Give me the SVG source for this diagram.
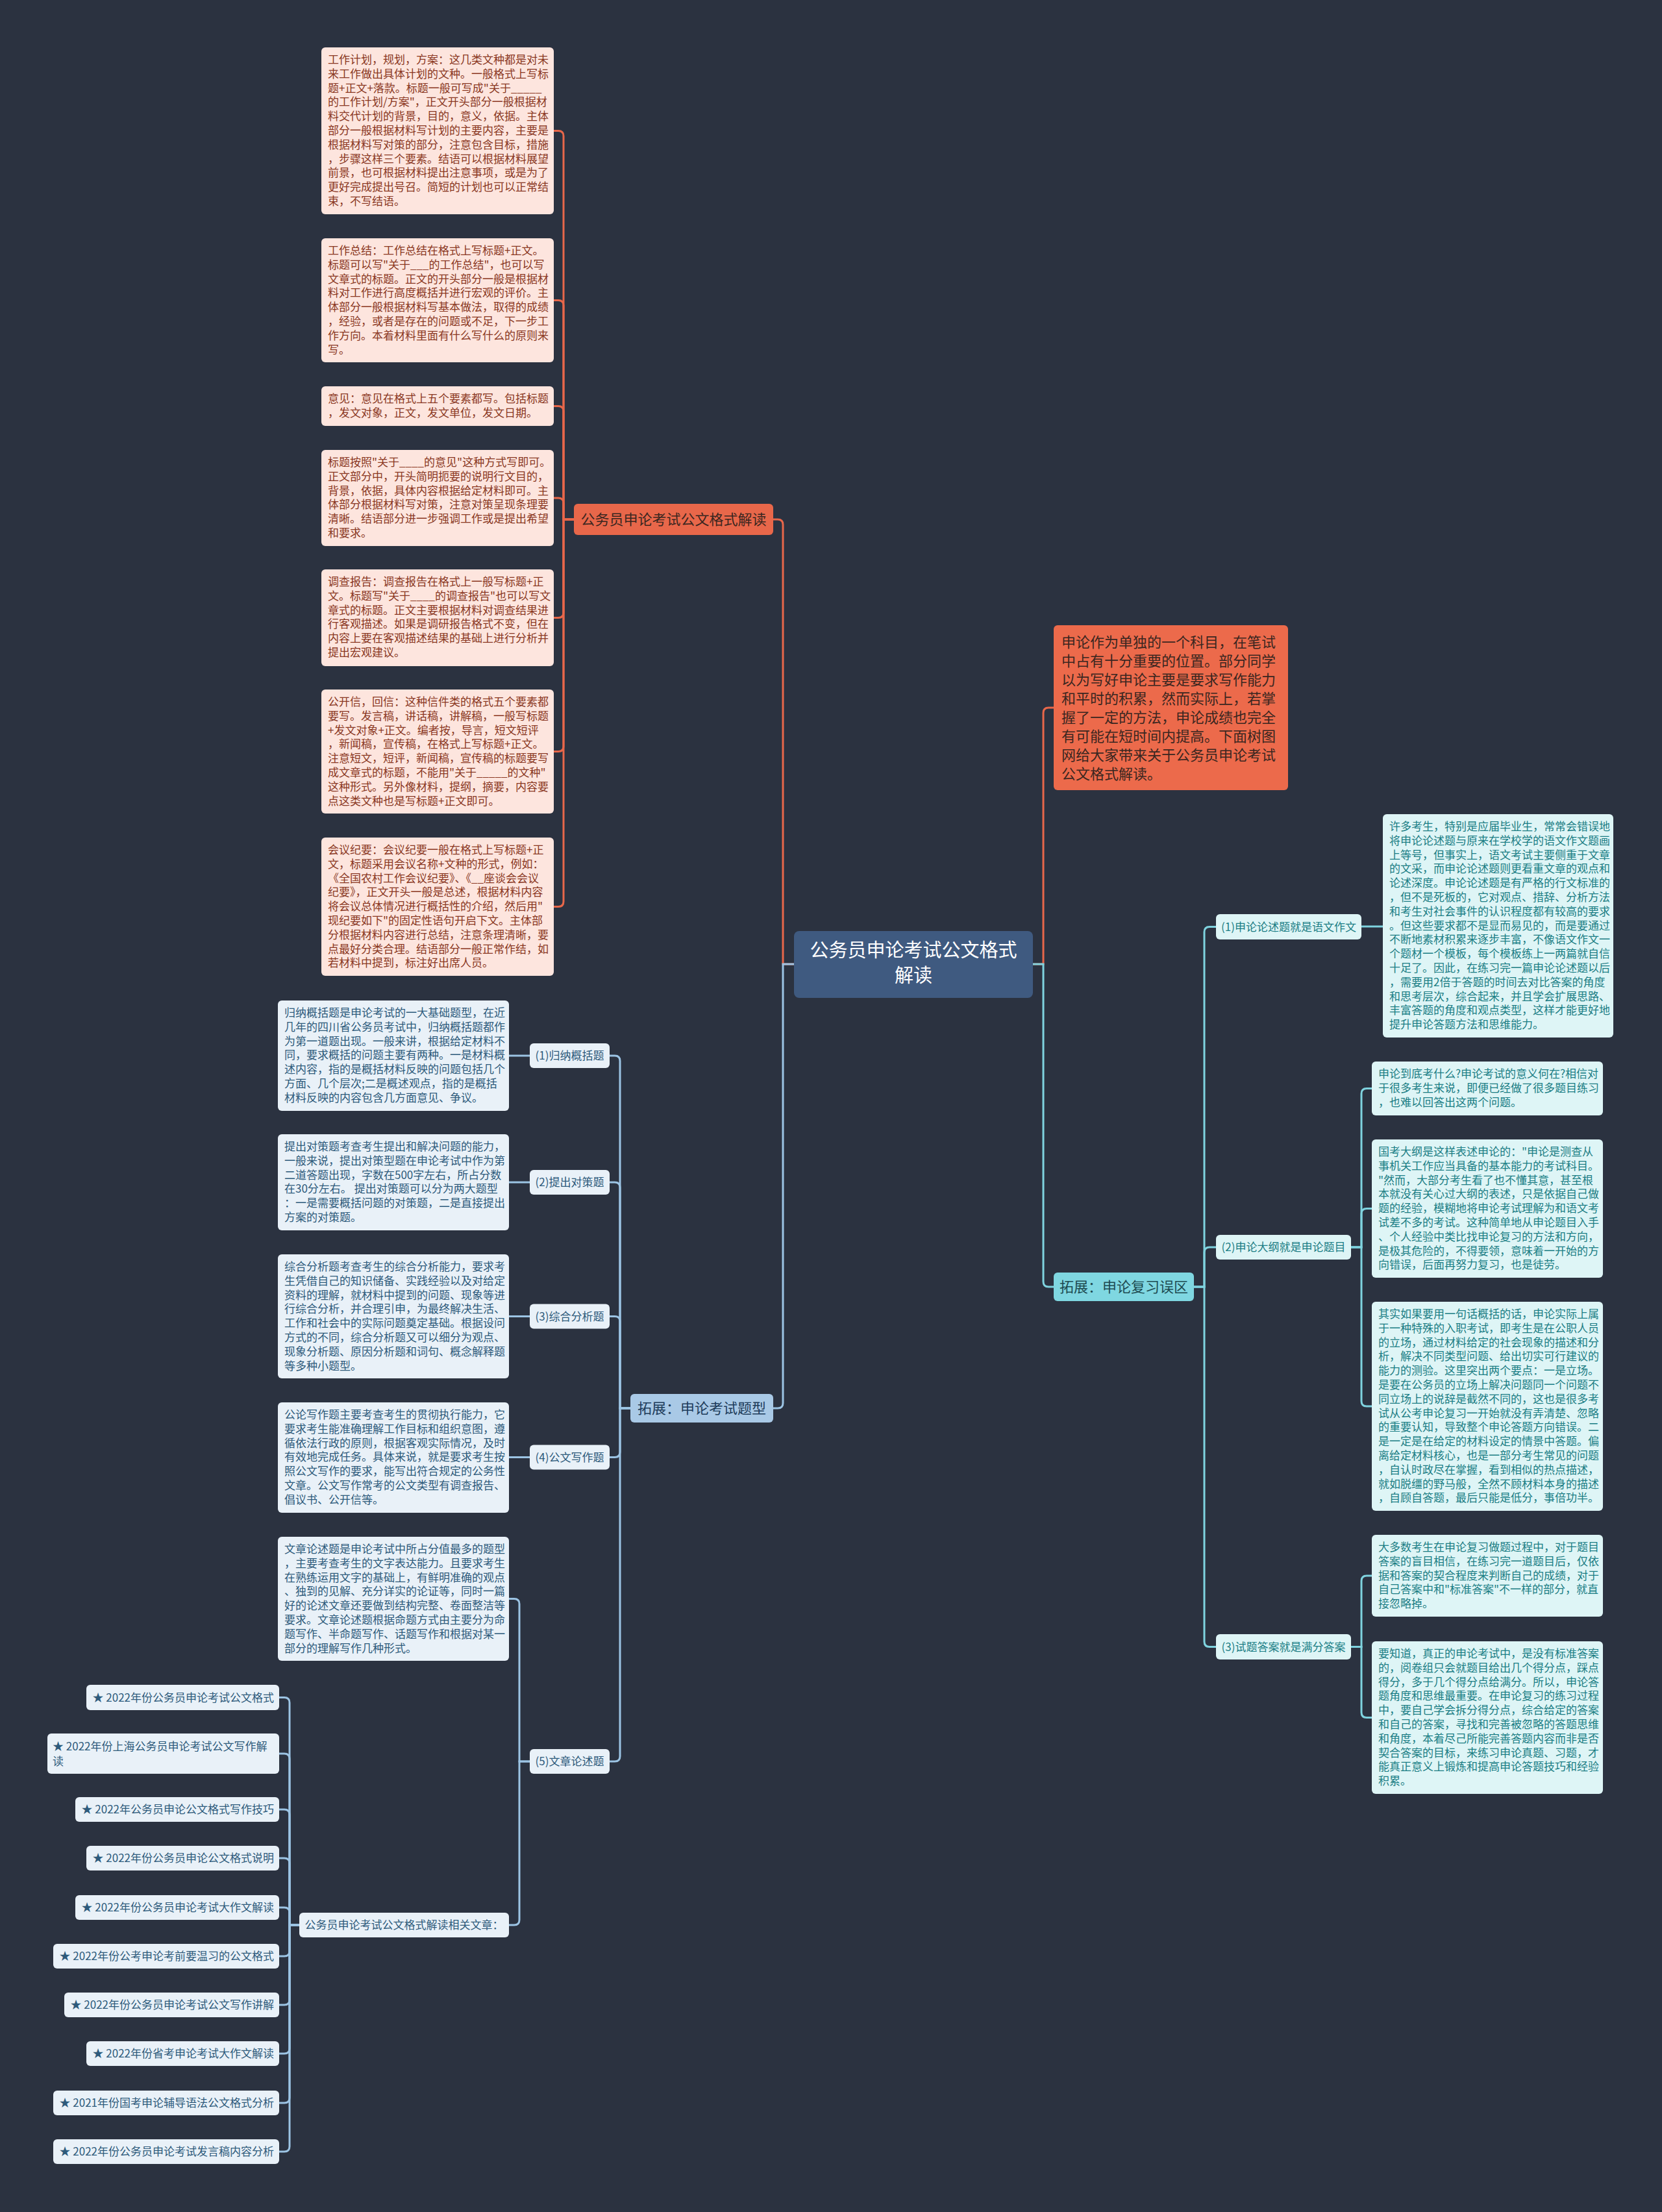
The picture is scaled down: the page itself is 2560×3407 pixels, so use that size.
<svg xmlns="http://www.w3.org/2000/svg" width="2560" height="3407" viewBox="0 0 2560 3407">
<style>
text{font-family:"Noto Sans CJK SC","Noto Sans",sans-serif}
.n17{font-size:17px}
.n22{font-size:22px}
.on{fill:#fde5de}
.ot{fill:#8a3722}
.bn{fill:#e9f1f8}
.bt{fill:#2d5a7b}
.cn{fill:#def5f6}
.ct{fill:#1a7d84}
.c{text-anchor:middle}
.lo{fill:none;stroke:#e8674a;stroke-width:3}
.lb{fill:none;stroke:#9cc4e4;stroke-width:3}
.lc{fill:none;stroke:#7fd3df;stroke-width:3}
</style>
<rect width="2560" height="3407" fill="#2b3240"/>

<g id="connectors">
<path class="lo" d="M1223 1485H1206V808Q1206 800 1198 800H1191"/>
<path class="lb" d="M1223 1485H1206V2161Q1206 2169 1198 2169H1191"/>
<path class="lo" d="M1591 1485H1607V1098Q1607 1090 1615 1090H1623"/>
<path class="lc" d="M1591 1485H1607V1974Q1607 1982 1615 1982H1623"/>
<path class="lo" d="M884 800H868V209.5Q868 201.5 860 201.5H853"/>
<path class="lo" d="M884 800H868V470.5Q868 462.5 860 462.5H853"/>
<path class="lo" d="M884 800H868V633.5Q868 625.5 860 625.5H853"/>
<path class="lo" d="M884 800H868V775Q868 767 860 767H853"/>
<path class="lo" d="M884 800H868V943.5Q868 951.5 860 951.5H853"/>
<path class="lo" d="M884 800H868V1149.5Q868 1157.5 860 1157.5H853"/>
<path class="lo" d="M884 800H868V1388.5Q868 1396.5 860 1396.5H853"/>
<path class="lb" d="M971 2169H955V1634Q955 1626 947 1626H939"/>
<path class="lb" d="M971 2169H955V1829Q955 1821 947 1821H939"/>
<path class="lb" d="M971 2169H955V2035.5Q955 2027.5 947 2027.5H939"/>
<path class="lb" d="M971 2169H955V2236.5Q955 2244.5 947 2244.5H939"/>
<path class="lb" d="M971 2169H955V2705Q955 2713 947 2713H939"/>
<path class="lb" d="M816 1626H784M816 1821H784M816 2027.5H784M816 2244.5H784"/>
<path class="lb" d="M816 2713H800V2470.5Q800 2462.5 792 2462.5H784"/>
<path class="lb" d="M816 2713H800V2957Q800 2965 792 2965H784"/>
<path class="lb" d="M461 2965H446V2622.5Q446 2614.5 438 2614.5H430"/>
<path class="lb" d="M461 2965H446V2709Q446 2701 438 2701H430"/>
<path class="lb" d="M461 2965H446V2795Q446 2787 438 2787H430"/>
<path class="lb" d="M461 2965H446V2870Q446 2862 438 2862H430"/>
<path class="lb" d="M461 2965H446V2946Q446 2938 438 2938H430"/>
<path class="lb" d="M461 2965H446V3005Q446 3013 438 3013H430"/>
<path class="lb" d="M461 2965H446V3080Q446 3088 438 3088H430"/>
<path class="lb" d="M461 2965H446V3155Q446 3163 438 3163H430"/>
<path class="lb" d="M461 2965H446V3231Q446 3239 438 3239H430"/>
<path class="lb" d="M461 2965H446V3306Q446 3314 438 3314H430"/>
<path class="lc" d="M1839 1982H1855V1435.5Q1855 1427.5 1863 1427.5H1873"/>
<path class="lc" d="M1839 1982H1855V1929Q1855 1921 1863 1921H1873"/>
<path class="lc" d="M1839 1982H1855V2528.5Q1855 2536.5 1863 2536.5H1873"/>
<path class="lc" d="M2097 1427H2130"/>
<path class="lc" d="M2081 1921H2097V1684.5Q2097 1676.5 2105 1676.5H2113"/>
<path class="lc" d="M2081 1921H2097V1869.5Q2097 1861.5 2105 1861.5H2113"/>
<path class="lc" d="M2081 1921H2097V2158Q2097 2166 2105 2166H2113"/>
<path class="lc" d="M2081 2536.5H2097V2435Q2097 2427 2105 2427H2113"/>
<path class="lc" d="M2081 2536.5H2097V2637.5Q2097 2645.5 2105 2645.5H2113"/>
</g>

<g id="center">
<rect x="1223" y="1434" width="368" height="103" rx="8" fill="#3f5a80"/>
<text class="c" x="1407" y="1474" font-size="29" fill="#ffffff">公务员申论考试公文格式<tspan x="1407" dy="39">解读</tspan></text>
</g>

<g id="main-format">
<rect x="884" y="776" width="307" height="48" rx="6" fill="#e8674a"/>
<text class="n22 c" x="1037.5" y="808" fill="#3a2620">公务员申论考试公文格式解读</text>
</g>

<g id="intro">
<rect x="1623" y="963" width="361" height="254" rx="6" fill="#ec6a4b"/>
<text class="n22" x="1635" y="997" fill="#3a2620">申论作为单独的一个科目，在笔试<tspan x="1635" dy="29">中占有十分重要的位置。部分同学</tspan><tspan x="1635" dy="29">以为写好申论主要是要求写作能力</tspan><tspan x="1635" dy="29">和平时的积累，然而实际上，若掌</tspan><tspan x="1635" dy="29">握了一定的方法，申论成绩也完全</tspan><tspan x="1635" dy="29">有可能在短时间内提高。下面树图</tspan><tspan x="1635" dy="29">网给大家带来关于公务员申论考试</tspan><tspan x="1635" dy="29">公文格式解读。</tspan></text>
</g>

<g id="main-types">
<rect x="971" y="2147" width="220" height="44" rx="6" fill="#a9c9e6"/>
<text class="n22 c" x="1081" y="2177" fill="#1d3c5a">拓展：申论考试题型</text>
</g>

<g id="main-errors">
<rect x="1623" y="1960" width="216" height="44" rx="6" fill="#7fd7e1"/>
<text class="n22 c" x="1731" y="1990" fill="#1d4a50">拓展：申论复习误区</text>
</g>

<g id="note-plan">
<rect class="on" x="495" y="73" width="358" height="257" rx="6"/>
<text class="n17 ot" x="505" y="98">工作计划，规划，方案：这几类文种都是对未<tspan x="505" dy="21.8">来工作做出具体计划的文种。一般格式上写标</tspan><tspan x="505" dy="21.8">题+正文+落款。标题一般可写成"关于_____</tspan><tspan x="505" dy="21.8">的工作计划/方案"，正文开头部分一般根据材</tspan><tspan x="505" dy="21.8">料交代计划的背景，目的，意义，依据。主体</tspan><tspan x="505" dy="21.8">部分一般根据材料写计划的主要内容，主要是</tspan><tspan x="505" dy="21.8">根据材料写对策的部分，注意包含目标，措施</tspan><tspan x="505" dy="21.8">，步骤这样三个要素。结语可以根据材料展望</tspan><tspan x="505" dy="21.8">前景，也可根据材料提出注意事项，或是为了</tspan><tspan x="505" dy="21.8">更好完成提出号召。简短的计划也可以正常结</tspan><tspan x="505" dy="21.8">束，不写结语。</tspan></text>
</g>

<g id="note-summary">
<rect class="on" x="495" y="367" width="358" height="191" rx="6"/>
<text class="n17 ot" x="505" y="392">工作总结：工作总结在格式上写标题+正文。<tspan x="505" dy="21.8">标题可以写"关于___的工作总结"，也可以写</tspan><tspan x="505" dy="21.8">文章式的标题。正文的开头部分一般是根据材</tspan><tspan x="505" dy="21.8">料对工作进行高度概括并进行宏观的评价。主</tspan><tspan x="505" dy="21.8">体部分一般根据材料写基本做法，取得的成绩</tspan><tspan x="505" dy="21.8">，经验，或者是存在的问题或不足，下一步工</tspan><tspan x="505" dy="21.8">作方向。本着材料里面有什么写什么的原则来</tspan><tspan x="505" dy="21.8">写。</tspan></text>
</g>

<g id="note-opinion">
<rect class="on" x="495" y="595" width="358" height="61" rx="6"/>
<text class="n17 ot" x="505" y="620">意见：意见在格式上五个要素都写。包括标题<tspan x="505" dy="21.8">，发文对象，正文，发文单位，发文日期。</tspan></text>
</g>

<g id="note-title">
<rect class="on" x="495" y="693" width="358" height="148" rx="6"/>
<text class="n17 ot" x="505" y="718">标题按照"关于____的意见"这种方式写即可。<tspan x="505" dy="21.8">正文部分中，开头简明扼要的说明行文目的，</tspan><tspan x="505" dy="21.8">背景，依据，具体内容根据给定材料即可。主</tspan><tspan x="505" dy="21.8">体部分根据材料写对策，注意对策呈现条理要</tspan><tspan x="505" dy="21.8">清晰。结语部分进一步强调工作或是提出希望</tspan><tspan x="505" dy="21.8">和要求。</tspan></text>
</g>

<g id="note-survey">
<rect class="on" x="495" y="877" width="358" height="149" rx="6"/>
<text class="n17 ot" x="505" y="902">调查报告：调查报告在格式上一般写标题+正<tspan x="505" dy="21.8">文。标题写"关于____的调查报告"也可以写文</tspan><tspan x="505" dy="21.8">章式的标题。正文主要根据材料对调查结果进</tspan><tspan x="505" dy="21.8">行客观描述。如果是调研报告格式不变，但在</tspan><tspan x="505" dy="21.8">内容上要在客观描述结果的基础上进行分析并</tspan><tspan x="505" dy="21.8">提出宏观建议。</tspan></text>
</g>

<g id="note-letter">
<rect class="on" x="495" y="1062" width="358" height="191" rx="6"/>
<text class="n17 ot" x="505" y="1087">公开信，回信：这种信件类的格式五个要素都<tspan x="505" dy="21.8">要写。发言稿，讲话稿，讲解稿，一般写标题</tspan><tspan x="505" dy="21.8">+发文对象+正文。编者按，导言，短文短评</tspan><tspan x="505" dy="21.8">，新闻稿，宣传稿，在格式上写标题+正文。</tspan><tspan x="505" dy="21.8">注意短文，短评，新闻稿，宣传稿的标题要写</tspan><tspan x="505" dy="21.8">成文章式的标题，不能用"关于_____的文种"</tspan><tspan x="505" dy="21.8">这种形式。另外像材料，提纲，摘要，内容要</tspan><tspan x="505" dy="21.8">点这类文种也是写标题+正文即可。</tspan></text>
</g>

<g id="note-minutes">
<rect class="on" x="495" y="1290" width="358" height="213" rx="6"/>
<text class="n17 ot" x="505" y="1315">会议纪要：会议纪要一般在格式上写标题+正<tspan x="505" dy="21.8">文，标题采用会议名称+文种的形式，例如：</tspan><tspan x="505" dy="21.8">《全国农村工作会议纪要》、《__座谈会会议</tspan><tspan x="505" dy="21.8">纪要》，正文开头一般是总述，根据材料内容</tspan><tspan x="505" dy="21.8">将会议总体情况进行概括性的介绍，然后用"</tspan><tspan x="505" dy="21.8">现纪要如下"的固定性语句开启下文。主体部</tspan><tspan x="505" dy="21.8">分根据材料内容进行总结，注意条理清晰，要</tspan><tspan x="505" dy="21.8">点最好分类合理。结语部分一般正常作结，如</tspan><tspan x="505" dy="21.8">若材料中提到，标注好出席人员。</tspan></text>
</g>

<g id="label-t1">
<rect class="bn" x="816" y="1607" width="123" height="38" rx="6"/>
<text class="n17 bt c" x="877.5" y="1632">(1)归纳概括题</text>
</g>
<g id="note-t1">
<rect class="bn" x="428" y="1541" width="356" height="170" rx="6"/>
<text class="n17 bt" x="438" y="1566">归纳概括题是申论考试的一大基础题型，在近<tspan x="438" dy="21.8">几年的四川省公务员考试中，归纳概括题都作</tspan><tspan x="438" dy="21.8">为第一道题出现。一般来讲，根据给定材料不</tspan><tspan x="438" dy="21.8">同，要求概括的问题主要有两种。一是材料概</tspan><tspan x="438" dy="21.8">述内容，指的是概括材料反映的问题包括几个</tspan><tspan x="438" dy="21.8">方面、几个层次;二是概述观点，指的是概括</tspan><tspan x="438" dy="21.8">材料反映的内容包含几方面意见、争议。</tspan></text>
</g>

<g id="label-t2">
<rect class="bn" x="816" y="1802" width="123" height="38" rx="6"/>
<text class="n17 bt c" x="877.5" y="1827">(2)提出对策题</text>
</g>
<g id="note-t2">
<rect class="bn" x="428" y="1747" width="356" height="148" rx="6"/>
<text class="n17 bt" x="438" y="1772">提出对策题考查考生提出和解决问题的能力，<tspan x="438" dy="21.8">一般来说，提出对策型题在申论考试中作为第</tspan><tspan x="438" dy="21.8">二道答题出现，字数在500字左右，所占分数</tspan><tspan x="438" dy="21.8">在30分左右。 提出对策题可以分为两大题型</tspan><tspan x="438" dy="21.8">：一是需要概括问题的对策题，二是直接提出</tspan><tspan x="438" dy="21.8">方案的对策题。</tspan></text>
</g>

<g id="label-t3">
<rect class="bn" x="816" y="2008.5" width="123" height="38" rx="6"/>
<text class="n17 bt c" x="877.5" y="2033.5">(3)综合分析题</text>
</g>
<g id="note-t3">
<rect class="bn" x="428" y="1932" width="356" height="191" rx="6"/>
<text class="n17 bt" x="438" y="1957">综合分析题考查考生的综合分析能力，要求考<tspan x="438" dy="21.8">生凭借自己的知识储备、实践经验以及对给定</tspan><tspan x="438" dy="21.8">资料的理解，就材料中提到的问题、现象等进</tspan><tspan x="438" dy="21.8">行综合分析，并合理引申，为最终解决生活、</tspan><tspan x="438" dy="21.8">工作和社会中的实际问题奠定基础。根据设问</tspan><tspan x="438" dy="21.8">方式的不同，综合分析题又可以细分为观点、</tspan><tspan x="438" dy="21.8">现象分析题、原因分析题和词句、概念解释题</tspan><tspan x="438" dy="21.8">等多种小题型。</tspan></text>
</g>

<g id="label-t4">
<rect class="bn" x="816" y="2225.5" width="123" height="38" rx="6"/>
<text class="n17 bt c" x="877.5" y="2250.5">(4)公文写作题</text>
</g>
<g id="note-t4">
<rect class="bn" x="428" y="2160" width="356" height="170" rx="6"/>
<text class="n17 bt" x="438" y="2185">公论写作题主要考查考生的贯彻执行能力，它<tspan x="438" dy="21.8">要求考生能准确理解工作目标和组织意图，遵</tspan><tspan x="438" dy="21.8">循依法行政的原则，根据客观实际情况，及时</tspan><tspan x="438" dy="21.8">有效地完成任务。具体来说，就是要求考生按</tspan><tspan x="438" dy="21.8">照公文写作的要求，能写出符合规定的公务性</tspan><tspan x="438" dy="21.8">文章。公文写作常考的公文类型有调查报告、</tspan><tspan x="438" dy="21.8">倡议书、公开信等。</tspan></text>
</g>

<g id="label-t5">
<rect class="bn" x="816" y="2694" width="123" height="38" rx="6"/>
<text class="n17 bt c" x="877.5" y="2719">(5)文章论述题</text>
</g>
<g id="note-t5">
<rect class="bn" x="428" y="2367" width="356" height="191" rx="6"/>
<text class="n17 bt" x="438" y="2392">文章论述题是申论考试中所占分值最多的题型<tspan x="438" dy="21.8">，主要考查考生的文字表达能力。且要求考生</tspan><tspan x="438" dy="21.8">在熟练运用文字的基础上，有鲜明准确的观点</tspan><tspan x="438" dy="21.8">、独到的见解、充分详实的论证等，同时一篇</tspan><tspan x="438" dy="21.8">好的论述文章还要做到结构完整、卷面整洁等</tspan><tspan x="438" dy="21.8">要求。文章论述题根据命题方式由主要分为命</tspan><tspan x="438" dy="21.8">题写作、半命题写作、话题写作和根据对某一</tspan><tspan x="438" dy="21.8">部分的理解写作几种形式。</tspan></text>
</g>

<g id="label-related">
<rect class="bn" x="461" y="2946" width="323" height="38" rx="6"/>
<text class="n17 bt c" x="622.5" y="2971">公务员申论考试公文格式解读相关文章：</text>
</g>

<g id="item-1"><rect class="bn" x="133" y="2595" width="297" height="39" rx="6"/><text class="n17 bt" x="142.5" y="2620.5">★ 2022年份公务员申论考试公文格式</text></g>
<g id="item-2"><rect class="bn" x="73" y="2670" width="357" height="62" rx="6"/><text class="n17 bt" x="81" y="2696">★ 2022年份上海公务员申论考试公文写作解<tspan x="81" dy="22.5">读</tspan></text></g>
<g id="item-3"><rect class="bn" x="116" y="2768" width="314" height="38" rx="6"/><text class="n17 bt" x="125.5" y="2793">★ 2022年公务员申论公文格式写作技巧</text></g>
<g id="item-4"><rect class="bn" x="133" y="2843" width="297" height="38" rx="6"/><text class="n17 bt" x="142.5" y="2868">★ 2022年份公务员申论公文格式说明</text></g>
<g id="item-5"><rect class="bn" x="116" y="2919" width="314" height="38" rx="6"/><text class="n17 bt" x="125.5" y="2944">★ 2022年份公务员申论考试大作文解读</text></g>
<g id="item-6"><rect class="bn" x="82" y="2994" width="348" height="38" rx="6"/><text class="n17 bt" x="91.5" y="3019">★ 2022年份公考申论考前要温习的公文格式</text></g>
<g id="item-7"><rect class="bn" x="99" y="3069" width="331" height="38" rx="6"/><text class="n17 bt" x="108.5" y="3094">★ 2022年份公务员申论考试公文写作讲解</text></g>
<g id="item-8"><rect class="bn" x="133" y="3144" width="297" height="38" rx="6"/><text class="n17 bt" x="142.5" y="3169">★ 2022年份省考申论考试大作文解读</text></g>
<g id="item-9"><rect class="bn" x="82" y="3220" width="348" height="38" rx="6"/><text class="n17 bt" x="91.5" y="3245">★ 2021年份国考申论辅导语法公文格式分析</text></g>
<g id="item-10"><rect class="bn" x="82" y="3295" width="348" height="38" rx="6"/><text class="n17 bt" x="91.5" y="3320">★ 2022年份公务员申论考试发言稿内容分析</text></g>

<g id="label-e1">
<rect class="cn" x="1873" y="1408" width="224" height="39" rx="6"/>
<text class="n17 ct c" x="1985" y="1433.5">(1)申论论述题就是语文作文</text>
</g>
<g id="note-e1">
<rect class="cn" x="2130" y="1254" width="355" height="344" rx="6"/>
<text class="n17 ct" x="2140" y="1279">许多考生，特别是应届毕业生，常常会错误地<tspan x="2140" dy="21.8">将申论论述题与原来在学校学的语文作文题画</tspan><tspan x="2140" dy="21.8">上等号，但事实上，语文考试主要侧重于文章</tspan><tspan x="2140" dy="21.8">的文采，而申论论述题则更看重文章的观点和</tspan><tspan x="2140" dy="21.8">论述深度。申论论述题是有严格的行文标准的</tspan><tspan x="2140" dy="21.8">，但不是死板的，它对观点、措辞、分析方法</tspan><tspan x="2140" dy="21.8">和考生对社会事件的认识程度都有较高的要求</tspan><tspan x="2140" dy="21.8">。但这些要求都不是显而易见的，而是要通过</tspan><tspan x="2140" dy="21.8">不断地素材积累来逐步丰富，不像语文作文一</tspan><tspan x="2140" dy="21.8">个题材一个模板，每个模板练上一两篇就自信</tspan><tspan x="2140" dy="21.8">十足了。因此，在练习完一篇申论论述题以后</tspan><tspan x="2140" dy="21.8">，需要用2倍于答题的时间去对比答案的角度</tspan><tspan x="2140" dy="21.8">和思考层次，综合起来，并且学会扩展思路、</tspan><tspan x="2140" dy="21.8">丰富答题的角度和观点类型，这样才能更好地</tspan><tspan x="2140" dy="21.8">提升申论答题方法和思维能力。</tspan></text>
</g>

<g id="label-e2">
<rect class="cn" x="1873" y="1902" width="208" height="38" rx="6"/>
<text class="n17 ct c" x="1977" y="1927">(2)申论大纲就是申论题目</text>
</g>
<g id="note-e2a">
<rect class="cn" x="2113" y="1635" width="356" height="83" rx="6"/>
<text class="n17 ct" x="2123" y="1660">申论到底考什么?申论考试的意义何在?相信对<tspan x="2123" dy="21.8">于很多考生来说，即便已经做了很多题目练习</tspan><tspan x="2123" dy="21.8">，也难以回答出这两个问题。</tspan></text>
</g>
<g id="note-e2b">
<rect class="cn" x="2113" y="1755" width="356" height="213" rx="6"/>
<text class="n17 ct" x="2123" y="1780">国考大纲是这样表述申论的："申论是测查从<tspan x="2123" dy="21.8">事机关工作应当具备的基本能力的考试科目。</tspan><tspan x="2123" dy="21.8">"然而，大部分考生看了也不懂其意，甚至根</tspan><tspan x="2123" dy="21.8">本就没有关心过大纲的表述，只是依据自己做</tspan><tspan x="2123" dy="21.8">题的经验，模糊地将申论考试理解为和语文考</tspan><tspan x="2123" dy="21.8">试差不多的考试。这种简单地从申论题目入手</tspan><tspan x="2123" dy="21.8">、个人经验中类比找申论复习的方法和方向，</tspan><tspan x="2123" dy="21.8">是极其危险的，不得要领，意味着一开始的方</tspan><tspan x="2123" dy="21.8">向错误，后面再努力复习，也是徒劳。</tspan></text>
</g>
<g id="note-e2c">
<rect class="cn" x="2113" y="2005" width="356" height="322" rx="6"/>
<text class="n17 ct" x="2123" y="2030">其实如果要用一句话概括的话，申论实际上属<tspan x="2123" dy="21.8">于一种特殊的入职考试，即考生是在公职人员</tspan><tspan x="2123" dy="21.8">的立场，通过材料给定的社会现象的描述和分</tspan><tspan x="2123" dy="21.8">析，解决不同类型问题、给出切实可行建议的</tspan><tspan x="2123" dy="21.8">能力的测验。这里突出两个要点：一是立场。</tspan><tspan x="2123" dy="21.8">是要在公务员的立场上解决问题同一个问题不</tspan><tspan x="2123" dy="21.8">同立场上的说辞是截然不同的，这也是很多考</tspan><tspan x="2123" dy="21.8">试从公考申论复习一开始就没有弄清楚、忽略</tspan><tspan x="2123" dy="21.8">的重要认知，导致整个申论答题方向错误。二</tspan><tspan x="2123" dy="21.8">是一定是在给定的材料设定的情景中答题。偏</tspan><tspan x="2123" dy="21.8">离给定材料核心，也是一部分考生常见的问题</tspan><tspan x="2123" dy="21.8">，自认时政尽在掌握，看到相似的热点描述，</tspan><tspan x="2123" dy="21.8">就如脱缰的野马般，全然不顾材料本身的描述</tspan><tspan x="2123" dy="21.8">，自顾自答题，最后只能是低分，事倍功半。</tspan></text>
</g>

<g id="label-e3">
<rect class="cn" x="1873" y="2517" width="208" height="39" rx="6"/>
<text class="n17 ct c" x="1977" y="2542.5">(3)试题答案就是满分答案</text>
</g>
<g id="note-e3a">
<rect class="cn" x="2113" y="2364" width="356" height="126" rx="6"/>
<text class="n17 ct" x="2123" y="2389">大多数考生在申论复习做题过程中，对于题目<tspan x="2123" dy="21.8">答案的盲目相信，在练习完一道题目后，仅依</tspan><tspan x="2123" dy="21.8">据和答案的契合程度来判断自己的成绩，对于</tspan><tspan x="2123" dy="21.8">自己答案中和"标准答案"不一样的部分，就直</tspan><tspan x="2123" dy="21.8">接忽略掉。</tspan></text>
</g>
<g id="note-e3b">
<rect class="cn" x="2113" y="2528" width="356" height="235" rx="6"/>
<text class="n17 ct" x="2123" y="2553">要知道，真正的申论考试中，是没有标准答案<tspan x="2123" dy="21.8">的，阅卷组只会就题目给出几个得分点，踩点</tspan><tspan x="2123" dy="21.8">得分，多于几个得分点给满分。所以，申论答</tspan><tspan x="2123" dy="21.8">题角度和思维最重要。在申论复习的练习过程</tspan><tspan x="2123" dy="21.8">中，要自己学会拆分得分点，综合给定的答案</tspan><tspan x="2123" dy="21.8">和自己的答案，寻找和完善被忽略的答题思维</tspan><tspan x="2123" dy="21.8">和角度，本着尽己所能完善答题内容而非是否</tspan><tspan x="2123" dy="21.8">契合答案的目标，来练习申论真题、习题，才</tspan><tspan x="2123" dy="21.8">能真正意义上锻炼和提高申论答题技巧和经验</tspan><tspan x="2123" dy="21.8">积累。</tspan></text>
</g>
</svg>
